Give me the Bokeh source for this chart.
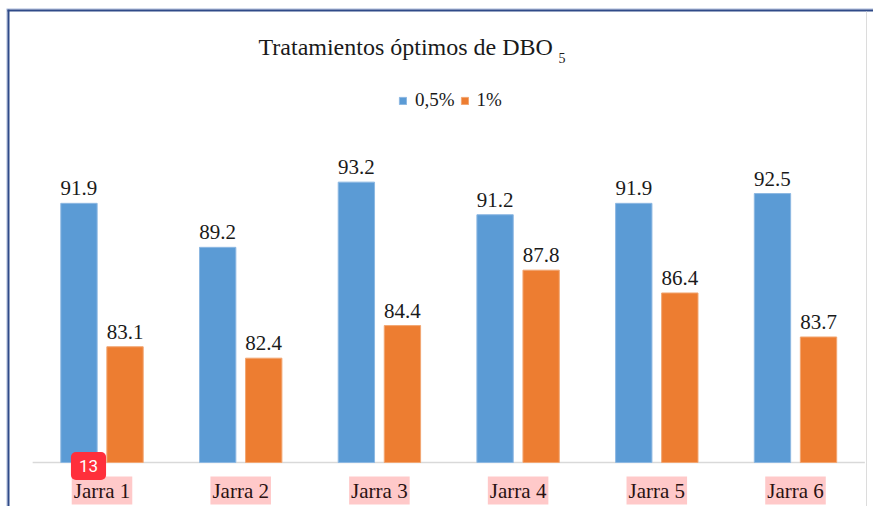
from bokeh.plotting import figure
from bokeh.models import Range1d, Label, Legend, LegendItem, ColumnDataSource
from bokeh.core.properties import value
from bokeh.embed import file_html
from bokeh.resources import INLINE

# ---- data ----
categories = ["Jarra 1", "Jarra 2", "Jarra 3", "Jarra 4", "Jarra 5", "Jarra 6"]
series_names = ["0,5%", "1%"]
values_05 = [91.9, 89.2, 93.2, 91.2, 91.9, 92.5]
values_1 = [83.1, 82.4, 84.4, 87.8, 86.4, 83.7]
axis_min = 76
title_text = "Tratamientos óptimos de DBO"
title_sub = "5"
badge_text = "13"

# ---- layout constants (pixels) ----
W, H = 873, 506
PX_CAT = 138.7          # width of one category band
CAT0_PX = 101.5         # centre of first category from left edge
PX_UNIT = 16.3          # pixels per value unit
BASE_FROM_BOTTOM = 44   # baseline distance from figure bottom
SHIFT = 7               # svg alphabetic baseline correction

x_start = 0.5 - CAT0_PX / PX_CAT
x_end = x_start + W / PX_CAT
y_start = axis_min - BASE_FROM_BOTTOM / PX_UNIT
y_end = y_start + H / PX_UNIT


def dx(px):
    return x_start + px / PX_CAT


def dy(px):
    return y_end - px / PX_UNIT


BLUE = "#5B9BD5"
ORANGE = "#ED7D31"
SERIF = "Liberation Serif"
NAVY = "#2F4A88"

centers = [i + 0.5 for i in range(len(categories))]
OFF = 0.166
BW = 0.262
src = ColumnDataSource(dict(
    cat=categories,
    c=centers,
    x05=[c - OFF for c in centers],
    x1=[c + OFF for c in centers],
    v05=values_05,
    v1=values_1,
    l05=[f"{v:.1f}" for v in values_05],
    l1=[f"{v:.1f}" for v in values_1],
))

p = figure(width=W, height=H, output_backend="svg", toolbar_location=None,
           x_range=Range1d(x_start, x_end), y_range=Range1d(y_start, y_end),
           x_axis_location=None, y_axis_location=None, min_border=0)
p.xgrid.visible = False
p.ygrid.visible = False
p.outline_line_color = None
p.background_fill_color = "white"
p.border_fill_color = "white"

# chart-area border (left + top, faint right)
p.segment(x0=[dx(6.5), dx(8)], y0=[dy(8.5), dy(9)], x1=[dx(6.5), dx(8)], y1=[y_start, y_start],
          line_color=["#A9B8DA", NAVY], line_width=[1, 2])
p.segment(x0=[dx(6), dx(7)], y0=[dy(8.5), dy(10)], x1=[x_end, x_end], y1=[dy(8.5), dy(10)],
          line_color=["#A9B8DA", NAVY], line_width=[1, 2])
p.segment(x0=dx(866), y0=dy(11), x1=dx(866), y1=y_start, line_color="#DCDCDC", line_width=1)

# baseline
p.segment(x0=0, x1=len(categories), y0=axis_min, y1=axis_min,
          line_color="#D9D9D9", line_width=1.5)

r05 = p.vbar(x="x05", top="v05", bottom=axis_min, width=BW, source=src,
             fill_color=BLUE, line_color="#8DB8E2", line_width=1)
r1 = p.vbar(x="x1", top="v1", bottom=axis_min, width=BW, source=src,
            fill_color=ORANGE, line_color="#F2A672", line_width=1)

for xs, ys, ls in (("x05", "v05", "l05"), ("x1", "v1", "l1")):
    p.text(x=xs, y=ys, text=ls, source=src, text_font=value(SERIF),
           text_font_size="21px", text_align="center",
           text_baseline="alphabetic", y_offset=-8 - SHIFT, text_color="#1a1a1a")

# category labels (highlighted)
p.text(x="c", y=axis_min, text="cat", source=src, text_font=value(SERIF),
       text_font_size="21px", text_align="center", text_baseline="alphabetic",
       y_offset=35 - SHIFT, text_color="#2a1212",
       background_fill_color="#FFC9C9", padding=2)

# badge
p.text(x=[dx(88)], y=[dy(465.5)], text=[badge_text], text_font=value("Roboto"),
       text_font_size="17px", text_align="center", text_baseline="middle",
       text_color="white", background_fill_color="#FF2F3B",
       padding=8, border_radius=5)

# title
p.add_layout(Label(x=dx(258), y=dy(46), text=title_text, text_font=SERIF,
                   text_font_size="24px", text_align="left",
                   text_baseline="alphabetic", text_color="#1a1a1a"))
p.add_layout(Label(x=dx(558), y=dy(57), text=title_sub, text_font=SERIF,
                   text_font_size="14px", text_align="left",
                   text_baseline="alphabetic", text_color="#1a1a1a"))

legend = Legend(items=[LegendItem(label=series_names[0], renderers=[r05]),
                       LegendItem(label=series_names[1], renderers=[r1])],
                orientation="horizontal", location=(398, 395),
                glyph_width=9, glyph_height=9, label_height=9,
                label_standoff=8, spacing=5, padding=0, margin=0,
                border_line_color=None, background_fill_alpha=0,
                label_text_font=SERIF, label_text_font_size="19px",
                label_text_color="#1a1a1a")
p.add_layout(legend)

open("out.html", "w").write(file_html(p, INLINE))
